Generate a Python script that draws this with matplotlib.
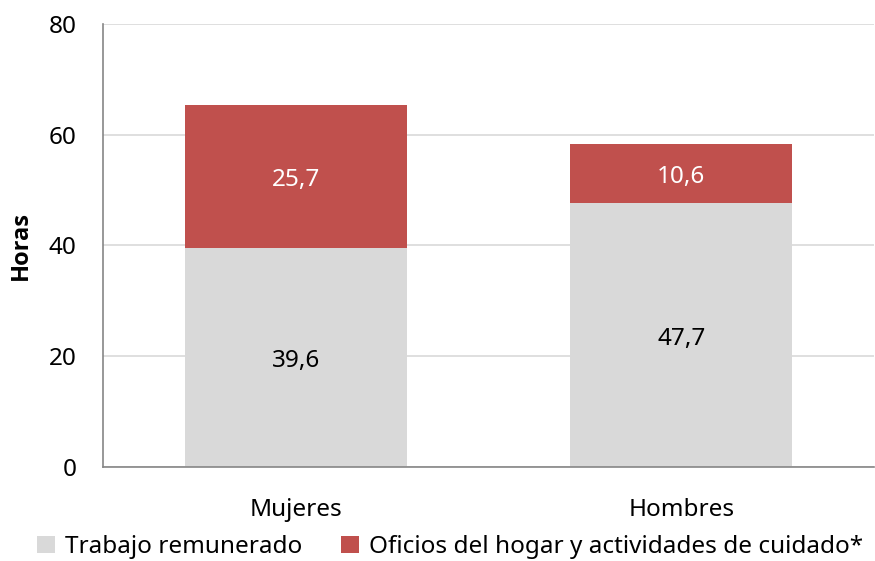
import matplotlib
matplotlib.use("Agg")
import matplotlib.pyplot as plt
import numpy as np

categories = ["Mujeres", "Hombres"]
trabajo = [39.6, 47.7]
oficios = [25.7, 10.6]
series_names = ["Trabajo remunerado", "Oficios del hogar y actividades de cuidado*"]
yticks = [0, 20, 40, 60, 80]

plt.rcParams['font.family'] = ['Noto Sans', 'DejaVu Sans']

fig = plt.figure(figsize=(8.75, 5.61), dpi=100)
ax = fig.add_axes([103/875, 1-467/561, (874-103)/875, (467-24)/561])

x = np.arange(len(categories))
w = 0.576
gray = "#D9D9D9"
red = "#C0504D"
b1 = ax.bar(x, trabajo, w, color=gray, label=series_names[0], zorder=2)
b2 = ax.bar(x, oficios, w, bottom=trabajo, color=red, label=series_names[1], zorder=2)

for i in range(len(categories)):
    ax.text(x[i], trabajo[i]/2 - 0.7, f"{trabajo[i]:.1f}".replace(".", ","), ha="center", va="center",
            fontsize=17.5, color="black", zorder=3)
    ax.text(x[i], trabajo[i] + oficios[i]/2 - 0.7, f"{oficios[i]:.1f}".replace(".", ","), ha="center", va="center",
            fontsize=17.5, color="white", zorder=3)

ax.set_xlim(-0.5, 1.5)
ax.set_ylim(0, 80)
ax.set_yticks(yticks)
ax.set_xticks(x)
ax.set_xticklabels(categories)
ax.tick_params(axis="both", length=0, labelsize=17.5)
ax.tick_params(axis="y", pad=19)
ax.tick_params(axis="x", pad=22)
ax.yaxis.grid(True, color="#D9D9D9", linewidth=1.2, zorder=0)
ax.set_axisbelow(True)
for s in ["top", "right"]:
    ax.spines[s].set_visible(False)
for s in ["left", "bottom"]:
    ax.spines[s].set_color("#868686")
    ax.spines[s].set_linewidth(1.2)
ax.set_ylabel("Horas", fontsize=17, fontweight="bold", family=["Open Sans", "DejaVu Sans"])
ax.yaxis.set_label_coords(-70/771, 0.5)

fig.legend(handles=[b1, b2], loc="center", bbox_to_anchor=(450/875, 1-547/561), ncol=2,
           frameon=False, fontsize=17.5, handlelength=0.75, handleheight=0.75,
           handletextpad=0.4, columnspacing=1.6)

fig.savefig("out.png", dpi=100)
